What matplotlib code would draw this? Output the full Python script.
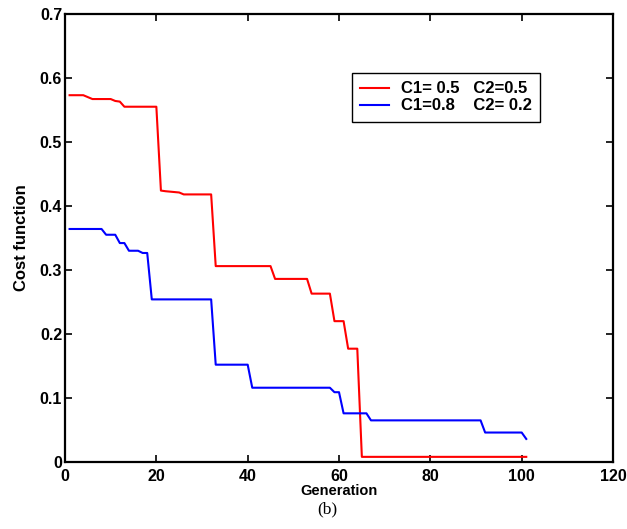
import matplotlib
matplotlib.use("Agg")
import matplotlib.pyplot as plt

# Red series: C1=0.5, C2=0.5 (generation, cost) at points where the curve changes
red_gen = [1, 4, 6, 10, 11, 12, 13, 20, 21, 22, 25, 26, 32, 33, 45, 46, 53, 54,
           58, 59, 61, 62, 64, 65, 101]
red_cost = [0.573, 0.573, 0.567, 0.567, 0.564, 0.563, 0.555, 0.555, 0.424, 0.423,
            0.421, 0.418, 0.418, 0.306, 0.306, 0.286, 0.286, 0.263, 0.263, 0.220,
            0.220, 0.177, 0.177, 0.008, 0.008]

# Blue series: C1=0.8, C2=0.2
blue_gen = [1, 8, 9, 11, 12, 13, 14, 16, 17, 18, 19, 32, 33, 40, 41, 58, 59, 60,
            61, 66, 67, 91, 92, 100, 101]
blue_cost = [0.364, 0.364, 0.355, 0.355, 0.342, 0.342, 0.330, 0.330, 0.3265, 0.3265,
             0.254, 0.254, 0.152, 0.152, 0.116, 0.116, 0.109, 0.109, 0.076, 0.076,
             0.065, 0.065, 0.046, 0.046, 0.036]

labels = ["C1= 0.5   C2=0.5", "C1=0.8    C2= 0.2"]
xticks = [0, 20, 40, 60, 80, 100, 120]
yticks = [0, 0.1, 0.2, 0.3, 0.4, 0.5, 0.6, 0.7]
ytick_labels = ["0", "0.1", "0.2", "0.3", "0.4", "0.5", "0.6", "0.7"]

plt.rcParams['font.family'] = ['Liberation Sans', 'DejaVu Sans']

fig = plt.figure(figsize=(6.27, 5.29), dpi=100)
ax = fig.add_axes([0.1037, 0.1267, 0.874, 0.847])

ax.plot(red_gen, red_cost, color='#ff0000', lw=1.5, label=labels[0])
ax.plot(blue_gen, blue_cost, color='#0000ff', lw=1.5, label=labels[1])

ax.set_xlim(0, 120)
ax.set_ylim(0, 0.7)
ax.set_xticks(xticks)
ax.set_xticklabels([str(t) for t in xticks], fontweight='bold', fontsize=11.5)
ax.set_yticks(yticks)
ax.set_yticklabels(ytick_labels, fontweight='bold', fontsize=11.5)
ax.tick_params(direction='in', length=5, width=1.2, top=True, right=True,
               labeltop=False, labelright=False)
ax.tick_params(axis='x', pad=5)
ax.tick_params(axis='y', pad=2)
for s in ax.spines.values():
    s.set_linewidth(1.6)
    s.set_color('black')

ax.set_xlabel("Generation", fontweight='bold', fontsize=10.5, labelpad=0)
ax.set_ylabel("Cost function", fontweight='bold', fontsize=12, labelpad=8)

leg = ax.legend(loc='upper left', bbox_to_anchor=(0.523, 0.868), borderaxespad=0,
                prop={'weight': 'bold', 'size': 12}, fancybox=False,
                edgecolor='black', framealpha=1, handlelength=1.75,
                handletextpad=0.7, borderpad=0.5, labelspacing=0.12)
leg.get_frame().set_linewidth(1.0)

fig.text(0.522, 0.022, "(b)", ha='center', va='bottom',
         fontsize=12.5, family=['Liberation Serif', 'DejaVu Serif'])

fig.savefig("out.png", dpi=100)
